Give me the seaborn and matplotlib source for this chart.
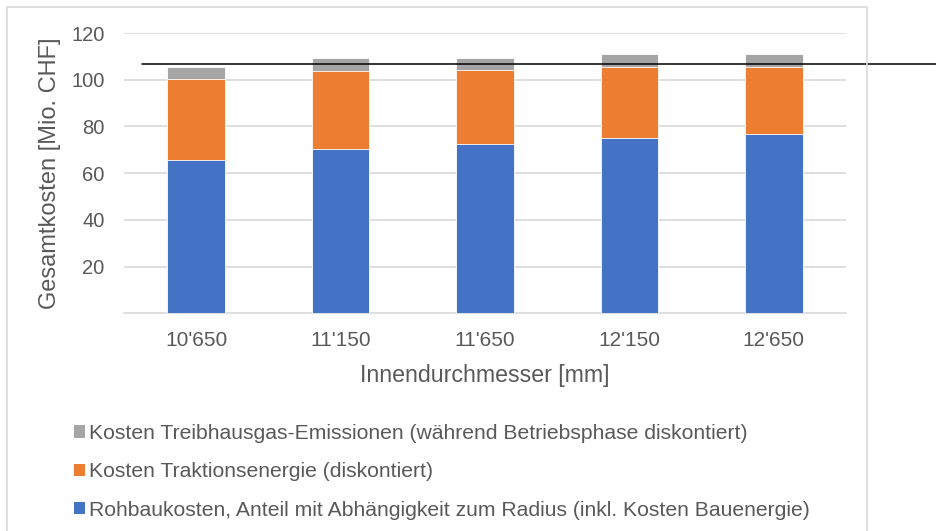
import pandas as pd
import seaborn as sns
from matplotlib import pyplot as plt
from matplotlib.patches import Patch, Rectangle

# values (Mio. CHF)
durchmesser = ["10'650", "11'150", "11'650", "12'150", "12'650"]
rohbau = [65.6, 70.3, 72.6, 75.0, 76.7]
traktion = [34.8, 33.3, 31.4, 30.3, 28.9]
treibhaus = [5.2, 5.5, 5.4, 5.5, 5.5]
referenz = 106.9

labels = ['Kosten Treibhausgas-Emissionen (während Betriebsphase diskontiert)',
          'Kosten Traktionsenergie (diskontiert)',
          'Rohbaukosten, Anteil mit Abhängigkeit zum Radius (inkl. Kosten Bauenergie)']
colors = ['#A5A5A5', '#ED7D31', '#4472C4']
text_color = '#595959'
grid_color = '#D9D9D9'

sns.set_theme(style="white")
plt.rcParams['font.family'] = ['Liberation Sans', 'DejaVu Sans']

df = pd.DataFrame({'d': durchmesser, 'rohbau': rohbau, 'traktion': traktion, 'treibhaus': treibhaus})
df['top_orange'] = df['rohbau'] + df['traktion']
df['top_gray'] = df['top_orange'] + df['treibhaus']

fig = plt.figure(figsize=(9.37, 5.31), dpi=100)
ax = fig.add_axes([124 / 937, 1 - 313.3 / 531, 722 / 937, 280.3 / 531])

# stacked bars drawn as overlapping cumulative totals
for col, c in zip(['top_gray', 'top_orange', 'rohbau'], colors):
    sns.barplot(data=df, x='d', y=col, color=c, width=0.4, saturation=1,
                edgecolor='white', linewidth=0.6, ax=ax, zorder=3)

ax.set_ylim(0, 120)
ax.set_yticks([20, 40, 60, 80, 100, 120])
ax.yaxis.grid(True, color=grid_color, linewidth=1.2, zorder=0)
ax.set_axisbelow(True)
for s in ['top', 'right', 'left']:
    ax.spines[s].set_visible(False)
ax.spines['bottom'].set_color(grid_color)
ax.spines['bottom'].set_linewidth(1.2)
ax.tick_params(axis='both', length=0, labelcolor=text_color)
ax.tick_params(axis='x', pad=13, labelsize=15)
ax.tick_params(axis='y', pad=14, labelsize=14.5)
ax.set_xlabel('Innendurchmesser [mm]', fontsize=16.7, color=text_color, labelpad=10)
ax.set_ylabel('Gesamtkosten [Mio. CHF]', fontsize=17, color=text_color, labelpad=7)

# reference line, runs past the chart frame
ax.axhline(referenz, xmin=(142 - 124) / 722, xmax=(937 - 124) / 722, color='black',
           linewidth=1.1, clip_on=False, zorder=5)

# chart frame
fig.patches.append(Rectangle((7 / 937, -0.05), 860 / 937, 1 - 7 / 531 + 0.05,
                             transform=fig.transFigure, fill=False,
                             edgecolor=grid_color, linewidth=1.2))

handles = [Patch(facecolor=c, edgecolor='none') for c in colors]
fig.legend(handles, labels, loc='upper left', bbox_to_anchor=(74 / 937, 1 - 424 / 531),
           frameon=False, fontsize=15.2, handlelength=0.5, handleheight=0.5,
           handletextpad=0.2, labelspacing=0.92, borderpad=0, borderaxespad=0,
           labelcolor=text_color)

plt.savefig('out.png', dpi=100)
